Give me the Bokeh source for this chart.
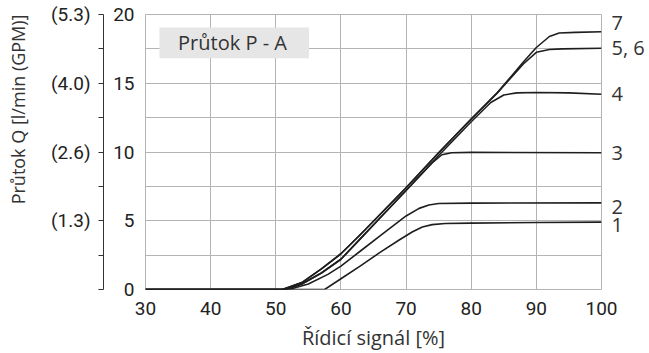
from bokeh.plotting import figure
from bokeh.models import Range1d, LinearAxis, FixedTicker, BoxAnnotation, Label, Title
from bokeh.embed import file_html
from bokeh.resources import INLINE

# ---------------- data ----------------
x_ticks = [30, 40, 50, 60, 70, 80, 90, 100]
y_ticks = [0, 5, 10, 15, 20]
y_grid_ticks = [0, 2.5, 5, 7.5, 10, 12.5, 15, 17.5, 20]
gpm_ticks = [5, 10, 15, 20]
gpm_minor = [0, 2.5, 7.5, 12.5, 17.5]
gpm_labels = ["(1.3)", "(2.6)", "(4.0)", "(5.3)"]

c1_x = [30, 57.5, 60, 63, 66, 69, 71, 72.5, 74, 76, 80, 90, 100]
c1_y = [0, 0, 0.78, 1.72, 2.7, 3.62, 4.2, 4.55, 4.72, 4.8, 4.83, 4.87, 4.9]

c2_x = [30, 52, 55, 58, 60, 63, 66, 70, 72, 73.5, 75, 80, 100]
c2_y = [0, 0, 0.4, 1.1, 1.7, 2.8, 3.9, 5.35, 5.9, 6.15, 6.25, 6.28, 6.3]

c3_x = [30, 51.5, 54, 57, 60, 63, 66, 70, 74, 75.5, 77, 80, 100]
c3_y = [0, 0, 0.4, 1.2, 2.2, 3.7, 5.2, 7.2, 9.2, 9.8, 9.95, 9.97, 9.95]

c4_x = [30, 51.5, 54, 57, 60, 63, 66, 70, 75, 80, 83, 85, 87, 90, 95, 100]
c4_y = [0, 0, 0.4, 1.2, 2.2, 3.7, 5.2, 7.2, 9.75, 12.2, 13.6, 14.15, 14.3, 14.33, 14.3, 14.2]

c56_x = [30, 51, 54, 57, 60, 63, 66, 70, 75, 80, 84, 88, 90, 92, 94, 100]
c56_y = [0, 0, 0.5, 1.5, 2.6, 4.0, 5.45, 7.4, 9.95, 12.4, 14.3, 16.4, 17.25, 17.45, 17.5, 17.55]

c7_x = [30, 51, 54, 57, 60, 63, 66, 70, 75, 80, 84, 88, 90, 92, 93.5, 96, 100]
c7_y = [0, 0, 0.5, 1.5, 2.6, 4.0, 5.45, 7.4, 9.95, 12.4, 14.3, 16.55, 17.6, 18.4, 18.65, 18.7, 18.75]

curve_names = ["1", "2", "3", "4", "5, 6", "7"]
curve_label_y = [4.72, 6.06, 10, 14.22, 17.62, 19.39]

# ---------------- figure ----------------
TICK_FONT = "Roboto"
TEXT_FONT = "Open Sans"
GRID = "#b4b4b4"
INK = "#1e1e1e"

p = figure(width=649, height=353, output_backend="svg", toolbar_location=None,
           x_range=Range1d(30, 100), y_range=Range1d(0, 20),
           min_border_left=144, min_border_right=48, min_border_top=14,
           min_border_bottom=62, y_axis_location=None)
p.background_fill_color = "white"
p.border_fill_color = "white"
p.outline_line_color = GRID
p.outline_line_width = 1

# x axis
xa = p.xaxis[0]
xa.ticker = FixedTicker(ticks=x_ticks)
xa.axis_line_color = None
xa.major_tick_line_color = None
xa.minor_tick_line_color = None
xa.major_tick_out = 0
xa.major_label_text_font = TICK_FONT
xa.major_label_text_font_size = "19px"
xa.major_label_text_color = "#222222"
xa.major_label_standoff = 12
xa.axis_label = "Řídicí signál [%]"
xa.axis_label_text_font = TEXT_FONT
xa.axis_label_text_font_size = "20px"
xa.axis_label_text_font_style = "normal"
xa.axis_label_text_color = "#333333"
xa.axis_label_standoff = 6

# primary y axis (l/min): labels only
ya = LinearAxis(ticker=FixedTicker(ticks=y_ticks))
ya.axis_line_color = None
ya.major_tick_line_color = None
ya.minor_tick_line_color = None
ya.major_tick_out = 0
ya.major_label_text_font = TICK_FONT
ya.major_label_text_font_size = "19px"
ya.major_label_text_color = "#222222"
ya.major_label_standoff = 11
ya.axis_label = "x"
ya.axis_label_text_alpha = 0
ya.axis_label_text_font_size = "1px"
ya.axis_label_standoff = 3
p.add_layout(ya, "left")

# secondary y axis (GPM) with bracket line
ga = LinearAxis(ticker=FixedTicker(ticks=gpm_ticks, minor_ticks=gpm_minor))
ga.major_label_overrides = {t: s for t, s in zip(gpm_ticks, gpm_labels)}
ga.axis_line_color = "#333333"
ga.axis_line_width = 1
ga.major_tick_line_color = "#333333"
ga.minor_tick_line_color = "#333333"
ga.major_tick_out = 5
ga.major_tick_in = 0
ga.minor_tick_out = 5
ga.minor_tick_in = 0
ga.major_label_text_font = TICK_FONT
ga.major_label_text_font_size = "19px"
ga.major_label_text_color = "#222222"
ga.major_label_standoff = 8
ga.axis_label = "x"
ga.axis_label_text_alpha = 0
ga.axis_label_text_font_size = "1px"
ga.axis_label_standoff = 11
p.add_layout(ga, "left")

# y axis title, aligned to the top of the frame
p.add_layout(Title(text="Průtok Q [l/min (GPM)]", align="right",
                   text_font=TEXT_FONT, text_font_size="18px",
                   text_font_style="normal", text_color="#333333",
                   standoff=6), "left")

# right axis carrying the curve names
ra = LinearAxis(ticker=FixedTicker(ticks=curve_label_y))
ra.major_label_overrides = {t: s for t, s in zip(curve_label_y, curve_names)}
ra.axis_line_color = None
ra.major_tick_line_color = None
ra.minor_tick_line_color = None
ra.major_tick_out = 0
ra.major_label_text_font = TEXT_FONT
ra.major_label_text_font_size = "20px"
ra.major_label_text_color = "#333333"
ra.major_label_standoff = 10
p.add_layout(ra, "right")

# grids
p.xgrid.ticker = FixedTicker(ticks=x_ticks)
p.ygrid.ticker = FixedTicker(ticks=y_grid_ticks)
p.xgrid.grid_line_color = GRID
p.ygrid.grid_line_color = GRID
p.xgrid.grid_line_width = 1
p.ygrid.grid_line_width = 1

# curves
for xs, ys in [(c1_x, c1_y), (c2_x, c2_y), (c3_x, c3_y), (c4_x, c4_y),
               (c56_x, c56_y), (c7_x, c7_y)]:
    p.line(xs, ys, line_color=INK, line_width=1.6, line_join="round")

# title box
p.add_layout(BoxAnnotation(left=32.14, right=55.1, bottom=16.82, top=19.06,
                           fill_color="#e6e6e6", fill_alpha=1.0,
                           line_alpha=0, level="underlay"))
p.add_layout(Label(x=35.0, y=17.94, text="Průtok P - A", text_baseline="middle",
                   text_align="left", text_font=TEXT_FONT, text_font_size="20px",
                   text_color="#333333"))

open("out.html", "w").write(file_html(p, INLINE))
